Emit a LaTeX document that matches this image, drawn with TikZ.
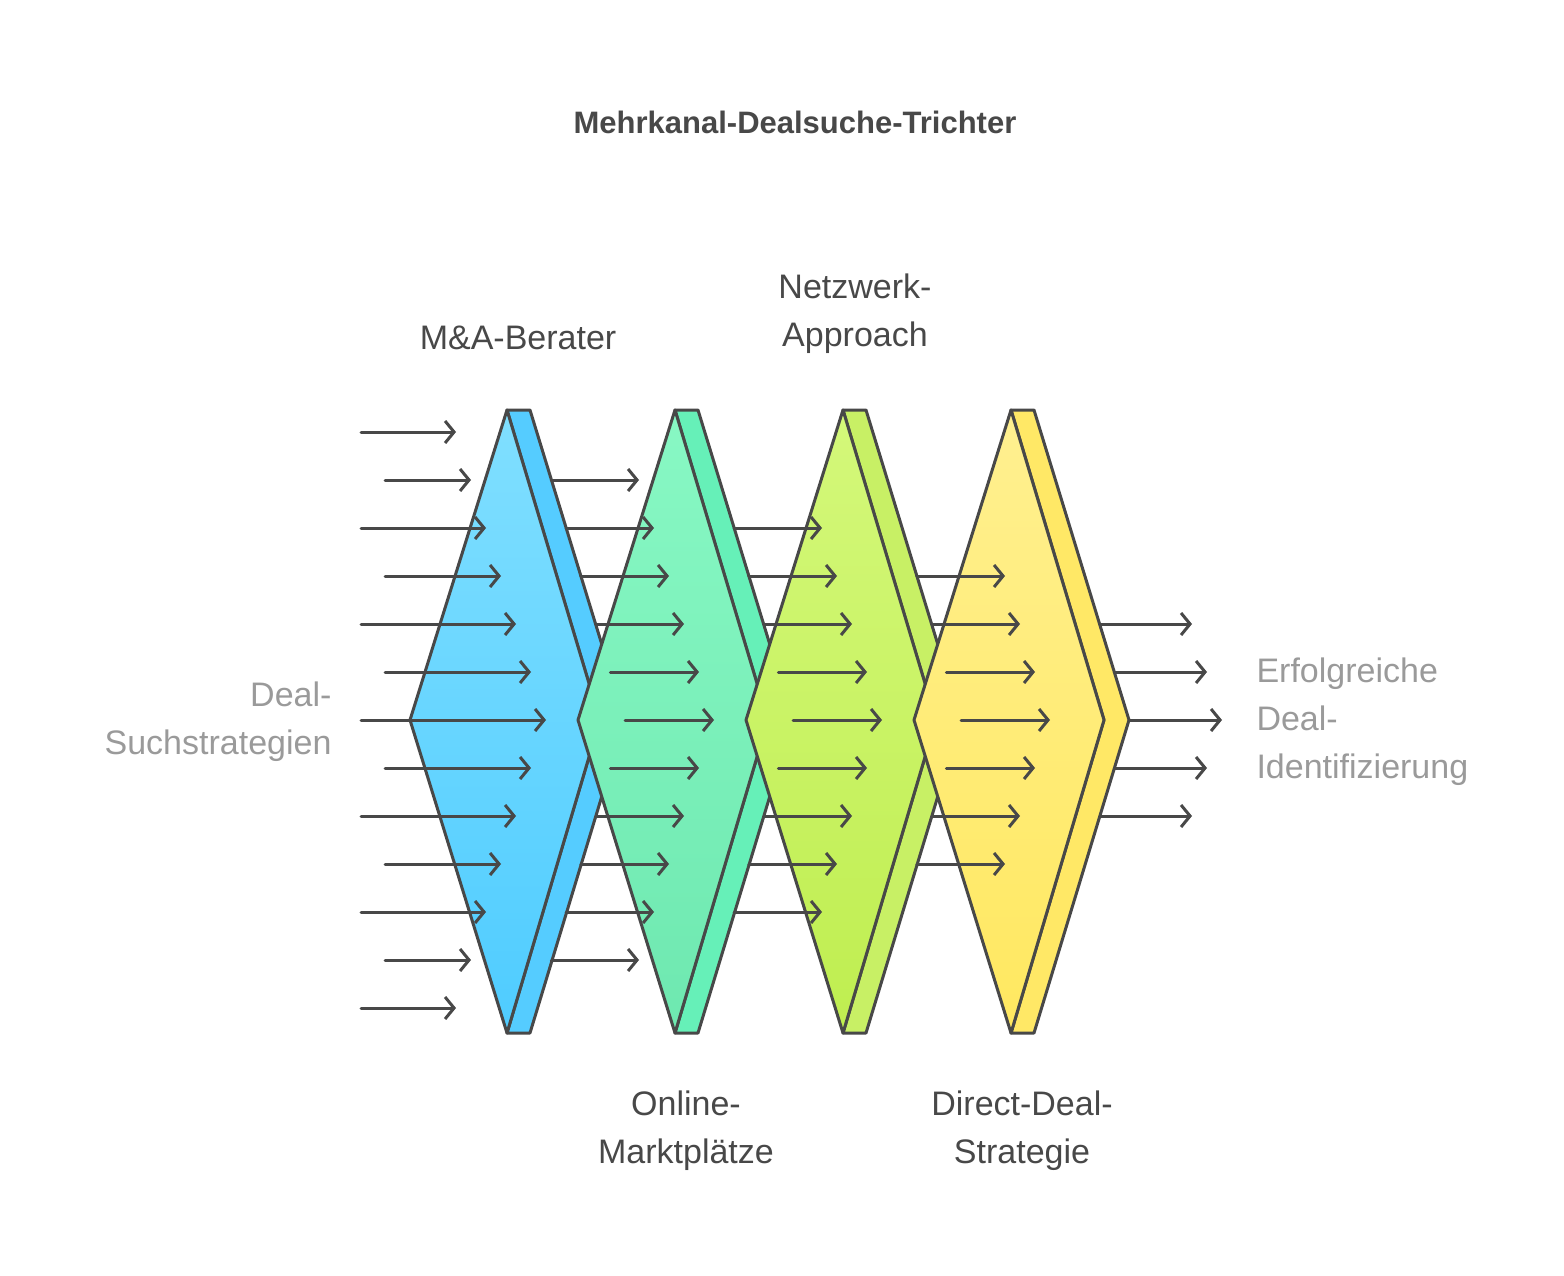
\documentclass[tikz,border=0pt]{standalone}
\usepackage{fontspec}
\setmainfont{Liberation Sans}
\usetikzlibrary{arrows.meta}
\definecolor{ink}{HTML}{484848}
\definecolor{lab}{HTML}{9A9A9A}
\begin{document}
\begin{tikzpicture}[x=1pt,y=-1pt,
  edge/.style={draw=ink,line width=3pt,line join=round},
  arr/.style={draw=ink,line width=3pt,line cap=round,-{Straight Barb[length=9pt,width=22pt,line width=3pt]}},
  lbl/.style={text=ink,font=\fontsize{34}{48}\selectfont,align=center},
  glbl/.style={text=lab,font=\fontsize{34}{48}\selectfont}]
\useasboundingbox (0,0) rectangle (1564,1276);
\node[text=ink,font=\bfseries\fontsize{31}{36}\selectfont] (title) at (795,122) {Mehrkanal-Dealsuche-Trichter};
\foreach \i/\ta/\tb/\sa in {0/80DFFF/4FCCFF/55CCFF,1/88F8C4/6EE8B0/66F0B8,2/D4F87A/BFEE50/C8F065,3/FFF090/FFE860/FFE866}{
  \definecolor{ta}{HTML}{\ta}\definecolor{tb}{HTML}{\tb}\definecolor{sa}{HTML}{\sa}
  \begin{scope}[xshift=\i*168]
  \path[edge,fill=sa] (507,410) -- (530,410) -- (625,720) -- (530,1033) -- (507,1033) -- (600,720) -- cycle;
  \path[edge,top color=ta,bottom color=tb] (507,410) -- (600,720) -- (507,1033) -- (410,720) -- cycle;
  \end{scope}
}
% column 1 arrows
\foreach \k in {-6,...,6}{
  \pgfmathsetmacro\yy{720+48*\k}
  \pgfmathsetmacro\xs{ifthenelse(mod(abs(\k),2)==0,361,385)}
  \pgfmathsetmacro\xe{546-15*abs(\k)}
  \coordinate (s1\k) at (\xs,\yy); \coordinate (e1\k) at (\xe,\yy);
  \draw[arr] (s1\k) -- (e1\k);
}
% columns 2..5
\foreach \c/\n in {1/5,2/4,3/3,4/2}{
  \foreach \k in {-\n,...,\n}{
    \pgfmathsetmacro\yy{720+48*\k}
    \pgfmathsetmacro\xs{(\c-1)*168+530+0.30645*(310-abs(48*\k))}
    \pgfmathsetmacro\xe{546+\c*168-15*abs(\k)+(\c==4?4:0)}
    \coordinate (s\c\k) at (\xs,\yy); \coordinate (e\c\k) at (\xe,\yy);
    \draw[arr] (s\c\k) -- (e\c\k);
  }
}
\node[lbl] (ma) at (518,338) {M\&A-Berater};
\node[lbl] (nw) at (855,314) {Netzwerk-\\Approach};
\node[lbl] (om) at (686,1131) {Online-\\Marktplätze};
\node[lbl] (dd) at (1022,1131) {Direct-Deal-\\Strategie};
\node[glbl,align=right,anchor=east] (in) at (335,722) {Deal-\\Suchstrategien};
\node[glbl,align=left,anchor=west] (out) at (1253,722) {Erfolgreiche\\Deal-\\Identifizierung};
\end{tikzpicture}
\end{document}
